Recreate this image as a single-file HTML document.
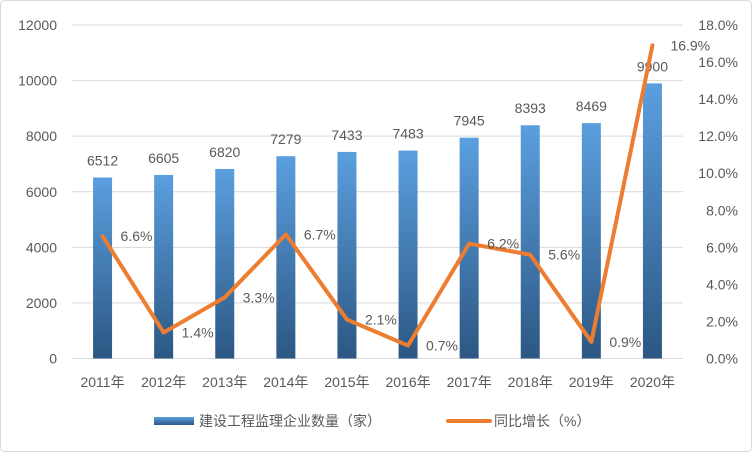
<!DOCTYPE html>
<html><head><meta charset="utf-8"><style>
body{margin:0;background:#fff}
#wrap{position:relative;width:752px;height:452px;overflow:hidden}
svg text{font-family:"Liberation Sans","Noto Sans CJK SC",sans-serif;fill:#595959;font-size:14px}
</style></head><body>
<div id="wrap">
<svg id="chart" width="752" height="452">
<defs><linearGradient id="bg" x1="0" y1="0" x2="0" y2="1"><stop offset="0" stop-color="#5b9fdf"/><stop offset="1" stop-color="#2c5783"/></linearGradient></defs>
<rect x="0.5" y="0.5" width="751" height="451" rx="4" fill="#fff" stroke="#d9d9d9"/>
</svg></div>
<script>
const categories=["2011年","2012年","2013年","2014年","2015年","2016年","2017年","2018年","2019年","2020年"];
const counts=[6512,6605,6820,7279,7433,7483,7945,8393,8469,9900];
const growth=[6.6,1.4,3.3,6.7,2.1,0.7,6.2,5.6,0.9,16.9];
const leftTicks=[0,2000,4000,6000,8000,10000,12000];
const rightTicks=[0,2,4,6,8,10,12,14,16,18];
const svg=document.getElementById('chart');const NS='http://www.w3.org/2000/svg';
function mk(t,a,p){const e=document.createElementNS(NS,t);for(const k in a)e.setAttribute(k,a[k]);(p||svg).appendChild(e);return e;}
const y0=358.5,yTop=25,x0=72,x1=683;
const yL=v=>y0-v/12000*(y0-yTop);
const yR=v=>y0-v/18*(y0-yTop);
const step=(x1-x0)/categories.length;
const xC=i=>x0+step*(i+0.5);
leftTicks.forEach(v=>{
 const l=mk('line',{x1:x0,x2:x1,y1:yL(v),y2:yL(v),stroke:'#d9d9d9','stroke-width':1});
 
 
 const t=mk('text',{x:57,y:yL(v)+5,'text-anchor':'end'});t.textContent=v;
 
 
});
rightTicks.forEach(v=>{
 const t=mk('text',{x:738,y:yR(v)+5,'text-anchor':'end'});t.textContent=v.toFixed(1)+'%';
 
 
});
categories.forEach((c,i)=>{
 const b=mk('rect',{x:xC(i)-9.5,y:yL(counts[i]),width:19,height:y0-yL(counts[i]),fill:'url(#bg)'});
 
 
 const t=mk('text',{x:xC(i),y:yL(counts[i])-12,'text-anchor':'middle'});t.textContent=counts[i];
 
 
 const a=mk('text',{x:xC(i),y:387,'text-anchor':'middle'});a.textContent=c;
 
 
});
const pl=mk('polyline',{points:growth.map((g,i)=>xC(i)+','+yR(g)).join(' '),fill:'none',stroke:'#ed7d31','stroke-width':4,'stroke-linejoin':'round','stroke-linecap':'round'});


growth.forEach((g,i)=>{
 const t=mk('text',{x:xC(i)+18,y:yR(g)+5});t.textContent=g.toFixed(1)+'%';
 
 
});
const lb=mk('rect',{x:154,y:417,width:40,height:8,fill:'url(#bg)'});


const lt=mk('text',{x:199,y:426});lt.textContent='建设工程监理企业数量（家）';


const ll=mk('line',{x1:448,x2:490,y1:421,y2:421,stroke:'#ed7d31','stroke-width':4,'stroke-linecap':'round'});


const lt2=mk('text',{x:494,y:426});lt2.textContent='同比增长（%）';


</script></body></html>
